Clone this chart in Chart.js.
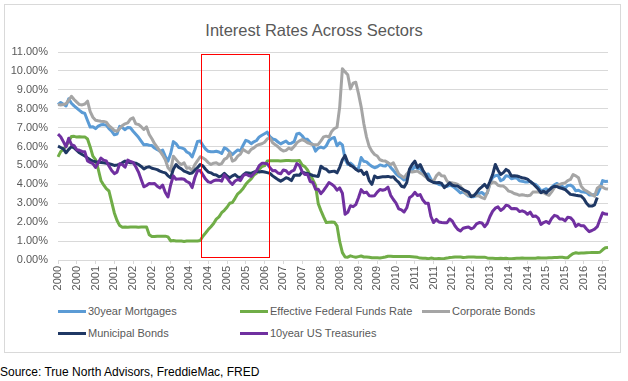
<!DOCTYPE html>
<html>
<head>
<meta charset="utf-8">
<title>Interest Rates Across Sectors</title>
<script src="https://cdn.jsdelivr.net/npm/chart.js@4.4.1/dist/chart.umd.min.js"></script>
<style>
  html, body { margin: 0; padding: 0; background: #fff; }
  #page { position: relative; width: 628px; height: 381px; font-family: "Liberation Sans", Arial, sans-serif; overflow: hidden; }
  #frame { position: absolute; left: 4px; top: 4px; width: 615px; height: 347px; border: 1px solid #d9d9d9; }
  #title { position: absolute; left: 0; top: 20px; width: 628px; text-align: center; font-size: 16.5px; line-height: 20px; color: #595959; }
  #chartBox { position: absolute; left: 0; top: 0; width: 628px; height: 300px; }
  .legend-item { position: absolute; height: 14px; line-height: 14px; font-size: 11px; color: #595959; white-space: nowrap; }
  .swatch { display: inline-block; width: 28px; height: 3px; vertical-align: middle; margin-right: 2px; position: relative; top: -1px; }
  #source { position: absolute; left: 0; top: 365px; font-size: 12px; line-height: 14px; color: #000; }
</style>
</head>
<body>
<div id="page">
  <div id="frame"></div>
  <div id="title">Interest Rates Across Sectors</div>
  <div id="chartBox"><canvas id="rates" width="628" height="300"></canvas></div>
  <div id="legend"></div>
  <div id="source">Source: True North Advisors, FreddieMac, FRED</div>
</div>
<script>
// Monthly series, Jan 2000 .. Feb 2017 (values in %)
const START_YEAR = 2000;
const MONTH_COUNT = 206;
const TICK_EVERY = 7;   // Excel shows a label every 7 months
const MONTH_NAMES = ['Jan','Feb','Mar','Apr','May','Jun','Jul','Aug','Sep','Oct','Nov','Dec'];

const MORTGAGE_30Y = [
  8.21, 8.33, 8.24, 8.15, 8.52, 8.29, 8.15, 8.03, 7.91, 7.80, 7.75, 7.38,
  7.03, 7.05, 6.95, 7.08, 7.15, 7.16, 7.13, 6.95, 6.82, 6.62, 6.66, 7.07,
  7.00, 6.89, 7.01, 6.99, 6.81, 6.65, 6.49, 6.29, 6.09, 6.11, 6.07, 6.05,
  5.92, 5.84, 5.75, 5.81, 5.48, 5.23, 5.63, 6.26, 6.15, 5.95, 5.93, 5.88,
  5.71, 5.64, 5.45, 5.83, 6.27, 6.29, 6.06, 5.87, 5.75, 5.72, 5.73, 5.75,
  5.71, 5.63, 5.93, 5.86, 5.72, 5.58, 5.70, 5.82, 5.77, 6.07, 6.33, 6.27,
  6.15, 6.25, 6.32, 6.51, 6.60, 6.68, 6.76, 6.52, 6.40, 6.36, 6.24, 6.14,
  6.22, 6.29, 6.16, 6.18, 6.26, 6.66, 6.70, 6.57, 6.38, 6.38, 6.21, 6.10,
  5.76, 5.92, 5.97, 5.92, 6.04, 6.32, 6.43, 6.48, 6.04, 6.20, 6.09, 5.33,
  5.06, 5.13, 5.00, 4.81, 4.86, 5.42, 5.22, 5.19, 5.06, 4.95, 4.88, 4.93,
  5.03, 4.99, 4.97, 5.10, 4.89, 4.74, 4.56, 4.43, 4.35, 4.23, 4.30, 4.71,
  4.76, 4.95, 4.84, 4.84, 4.64, 4.51, 4.55, 4.27, 4.11, 4.07, 3.99, 3.96,
  3.92, 3.89, 3.95, 3.91, 3.80, 3.68, 3.55, 3.60, 3.50, 3.38, 3.35, 3.35,
  3.41, 3.53, 3.57, 3.45, 3.54, 4.07, 4.37, 4.46, 4.49, 4.19, 4.26, 4.46,
  4.43, 4.30, 4.34, 4.34, 4.19, 4.16, 4.13, 4.12, 4.16, 4.04, 4.00, 3.86,
  3.67, 3.71, 3.77, 3.67, 3.84, 3.98, 4.05, 3.91, 3.89, 3.80, 3.94, 3.96,
  3.87, 3.66, 3.69, 3.61, 3.60, 3.57, 3.44, 3.44, 3.46, 3.47, 3.77, 4.20,
  4.15, 4.17
];

const FED_FUNDS = [
  5.45, 5.73, 5.85, 6.02, 6.27, 6.53, 6.54, 6.50, 6.52, 6.51, 6.51, 6.40,
  5.98, 5.49, 5.31, 4.80, 4.21, 3.97, 3.77, 3.65, 3.07, 2.49, 2.09, 1.82,
  1.73, 1.74, 1.73, 1.75, 1.75, 1.75, 1.73, 1.74, 1.75, 1.75, 1.34, 1.24,
  1.24, 1.26, 1.25, 1.26, 1.26, 1.22, 1.01, 1.03, 1.01, 1.01, 1.00, 0.98,
  1.00, 1.01, 1.00, 1.00, 1.00, 1.03, 1.26, 1.43, 1.61, 1.76, 1.93, 2.16,
  2.28, 2.50, 2.63, 2.79, 3.00, 3.04, 3.26, 3.50, 3.62, 3.78, 4.00, 4.16,
  4.29, 4.49, 4.59, 4.79, 4.94, 4.99, 5.24, 5.25, 5.25, 5.25, 5.25, 5.24,
  5.25, 5.26, 5.26, 5.25, 5.25, 5.25, 5.26, 5.02, 4.94, 4.76, 4.49, 4.24,
  3.94, 2.98, 2.61, 2.28, 1.98, 2.00, 2.01, 2.00, 1.81, 0.97, 0.39, 0.16,
  0.15, 0.22, 0.18, 0.15, 0.18, 0.21, 0.16, 0.16, 0.15, 0.12, 0.12, 0.12,
  0.11, 0.13, 0.16, 0.20, 0.20, 0.18, 0.18, 0.19, 0.19, 0.19, 0.19, 0.18,
  0.17, 0.16, 0.14, 0.10, 0.09, 0.09, 0.07, 0.10, 0.08, 0.07, 0.08, 0.07,
  0.08, 0.10, 0.13, 0.14, 0.16, 0.16, 0.16, 0.13, 0.14, 0.16, 0.16, 0.16,
  0.14, 0.15, 0.14, 0.15, 0.11, 0.09, 0.09, 0.08, 0.08, 0.09, 0.08, 0.09,
  0.07, 0.07, 0.08, 0.09, 0.09, 0.10, 0.09, 0.09, 0.09, 0.09, 0.09, 0.12,
  0.11, 0.11, 0.11, 0.12, 0.12, 0.13, 0.13, 0.14, 0.14, 0.12, 0.12, 0.24,
  0.34, 0.38, 0.36, 0.37, 0.37, 0.38, 0.39, 0.40, 0.40, 0.40, 0.41, 0.54,
  0.65, 0.66
];

const CORPORATE = [
  8.22, 8.20, 8.22, 8.27, 8.45, 8.66, 8.49, 8.35, 8.22, 8.20, 8.25, 8.40,
  7.85, 7.55, 7.39, 7.36, 7.34, 7.33, 7.29, 7.10, 6.99, 6.85, 6.81, 6.95,
  7.11, 7.20, 7.25, 7.45, 7.52, 7.20, 7.17, 7.05, 6.90, 7.04, 6.64, 6.41,
  6.15, 5.95, 5.76, 5.55, 5.30, 4.88, 4.72, 5.49, 5.32, 5.15, 5.05, 5.14,
  4.85, 4.88, 4.72, 5.05, 5.25, 5.46, 5.40, 5.30, 5.15, 5.05, 5.12, 5.14,
  5.05, 5.10, 5.32, 5.40, 5.67, 5.23, 5.30, 5.49, 5.60, 5.85, 5.75, 5.67,
  5.85, 5.93, 6.05, 6.11, 6.15, 6.23, 6.40, 6.46, 6.20, 6.10, 5.99, 5.85,
  5.76, 5.80, 5.92, 5.85, 6.00, 6.20, 6.30, 6.37, 6.30, 6.20, 6.15, 6.11,
  6.10, 6.11, 6.30, 6.51, 6.55, 6.50, 6.80, 6.95, 7.02, 8.10, 10.12, 9.95,
  9.80, 9.05, 9.35, 9.40, 8.80, 8.10, 7.20, 6.50, 6.00, 5.75, 5.58, 5.50,
  5.30, 5.25, 5.23, 5.15, 5.05, 5.14, 4.85, 4.55, 4.45, 4.35, 4.55, 4.70,
  4.65, 4.68, 4.70, 4.60, 4.52, 4.40, 4.26, 4.20, 4.17, 4.45, 4.60, 4.45,
  4.44, 4.17, 4.08, 4.08, 4.05, 4.00, 3.90, 3.70, 3.52, 3.42, 3.40, 3.42,
  3.40, 3.38, 3.30, 3.24, 3.56, 4.00, 4.12, 4.10, 3.95, 3.91, 3.91, 3.80,
  3.64, 3.60, 3.52, 3.48, 3.42, 3.45, 3.42, 3.40, 3.42, 3.59, 3.60, 3.59,
  3.57, 3.56, 3.48, 3.42, 3.60, 3.82, 3.95, 4.00, 4.05, 4.08, 4.20, 4.26,
  4.52, 4.45, 4.35, 3.91, 3.73, 3.65, 3.56, 3.45, 3.38, 3.80, 3.91, 3.85,
  3.77, 3.75
];

const MUNICIPAL = [
  6.02, 5.95, 5.88, 5.67, 5.85, 5.99, 5.93, 5.80, 5.67, 5.58, 5.50, 5.40,
  5.30, 5.23, 5.20, 5.18, 5.16, 5.14, 5.12, 5.09, 5.05, 5.00, 5.02, 5.05,
  5.15, 5.23, 5.18, 5.14, 5.14, 5.12, 5.05, 4.95, 4.82, 4.90, 4.93, 4.85,
  4.82, 4.78, 4.70, 4.65, 4.61, 4.45, 4.35, 4.80, 5.05, 4.90, 4.82, 4.70,
  4.65, 4.58, 4.60, 4.75, 4.88, 5.05, 4.98, 4.80, 4.65, 4.61, 4.52, 4.50,
  4.40, 4.45, 4.58, 4.45, 4.35, 4.45, 4.52, 4.40, 4.35, 4.50, 4.61, 4.60,
  4.58, 4.65, 4.70, 4.65, 4.68, 4.65, 4.62, 4.58, 4.45, 4.35, 4.25, 4.17,
  4.25, 4.35, 4.30, 4.20, 4.47, 4.50, 4.48, 4.65, 4.60, 4.58, 4.52, 4.47,
  4.44, 4.42, 4.96, 4.85, 4.80, 4.65, 4.68, 4.70, 4.61, 4.90, 5.30, 5.53,
  5.15, 5.00, 4.93, 4.80, 4.70, 4.75, 4.52, 4.65, 4.20, 4.00, 4.44, 4.35,
  4.38, 4.40, 4.40, 4.42, 4.38, 4.40, 4.23, 4.10, 3.90, 3.85, 4.10, 4.80,
  5.05, 5.23, 4.90, 5.05, 4.75, 4.52, 4.25, 4.17, 4.10, 4.08, 4.10, 4.05,
  3.82, 3.95, 4.08, 3.95, 3.92, 3.91, 3.80, 3.73, 3.65, 3.59, 3.35, 3.40,
  3.56, 3.75, 3.87, 4.00, 3.82, 4.15, 4.52, 5.05, 4.75, 4.52, 4.62, 4.79,
  4.70, 4.44, 4.45, 4.44, 4.40, 4.35, 4.32, 4.28, 4.15, 4.05, 3.90, 3.75,
  3.56, 3.64, 3.55, 3.70, 3.82, 3.90, 3.88, 3.82, 3.78, 3.73, 3.60, 3.47,
  3.45, 3.42, 3.40, 3.38, 3.24, 3.00, 2.85, 2.85, 2.92, 3.30, null, null,
  null, null
];

const TREASURY_10Y = [
  6.66, 6.52, 6.26, 5.99, 6.44, 6.10, 6.05, 5.83, 5.80, 5.74, 5.72, 5.24,
  5.16, 5.10, 4.89, 5.14, 5.39, 5.28, 5.24, 4.97, 4.73, 4.57, 4.65, 5.09,
  5.04, 4.91, 5.28, 5.21, 5.16, 4.93, 4.65, 4.26, 3.87, 3.94, 4.05, 4.03,
  4.05, 3.90, 3.81, 3.96, 3.57, 3.33, 3.98, 4.45, 4.27, 4.29, 4.30, 4.27,
  4.15, 4.08, 3.83, 4.35, 4.72, 4.73, 4.50, 4.28, 4.13, 4.10, 4.19, 4.23,
  4.22, 4.17, 4.50, 4.34, 4.14, 4.00, 4.18, 4.26, 4.20, 4.46, 4.54, 4.47,
  4.42, 4.57, 4.72, 4.99, 5.11, 5.11, 5.09, 4.88, 4.72, 4.73, 4.60, 4.56,
  4.76, 4.72, 4.56, 4.69, 4.75, 5.10, 5.00, 4.67, 4.52, 4.53, 4.15, 4.10,
  3.74, 3.74, 3.51, 3.68, 3.88, 4.10, 4.01, 3.89, 3.69, 3.81, 3.53, 2.42,
  2.52, 2.87, 2.82, 2.93, 3.29, 3.72, 3.56, 3.59, 3.40, 3.39, 3.40, 3.59,
  3.73, 3.69, 3.73, 3.85, 3.42, 3.20, 3.01, 2.70, 2.65, 2.54, 2.76, 3.29,
  3.39, 3.58, 3.41, 3.46, 3.17, 3.00, 3.00, 2.30, 1.98, 2.15, 2.01, 1.98,
  1.97, 1.97, 2.17, 2.05, 1.80, 1.62, 1.53, 1.68, 1.72, 1.75, 1.65, 1.72,
  1.91, 1.98, 1.96, 1.76, 1.93, 2.30, 2.58, 2.74, 2.81, 2.62, 2.72, 2.90,
  2.86, 2.71, 2.72, 2.71, 2.56, 2.60, 2.54, 2.42, 2.53, 2.30, 2.33, 2.21,
  1.88, 1.98, 2.04, 1.94, 2.20, 2.36, 2.32, 2.17, 2.17, 2.07, 2.26, 2.24,
  2.09, 1.78, 1.89, 1.81, 1.81, 1.64, 1.50, 1.56, 1.63, 1.76, 2.14, 2.49,
  2.43, 2.42
];

const SERIES_NAMES = ['30year Mortgages', 'Effective Federal Funds Rate', 'Corporate Bonds', 'Municipal Bonds', '10year US Treasuries'];
const SERIES_DATA = [MORTGAGE_30Y, FED_FUNDS, CORPORATE, MUNICIPAL, TREASURY_10Y];
const SERIES_COLORS = ['#5B9BD5', '#70AD47', '#A5A5A5', '#1F3864', '#7030A0'];

// Highlighted period (Fed tightening cycle), in month index / percent
const HIGHLIGHT = { from: 53.4, to: 78.8, low: 0.15, high: 10.9 };

const Y_MIN = 0, Y_MAX = 11, Y_STEP = 1;

// layout
const LEGEND_COLS = [58, 240, 422];
const LEGEND_ROWS = [311, 333];
const AXIS_FONT = { family: '"Liberation Sans", Arial, sans-serif', size: 11 };
const TEXT_GREY = '#595959';
const GRID_GREY = '#D9D9D9';

const MONTHS = [];
for (let i = 0; i < MONTH_COUNT; i++) {
  MONTHS.push(MONTH_NAMES[i % 12] + ' ' + (START_YEAR + Math.floor(i / 12)));
}

const highlightBox = {
  id: 'highlightBox',
  afterDatasetsDraw(chart) {
    const x = chart.scales.x, y = chart.scales.y, ctx = chart.ctx;
    const left = x.getPixelForValue(HIGHLIGHT.from);
    const right = x.getPixelForValue(HIGHLIGHT.to);
    const top = y.getPixelForValue(HIGHLIGHT.high);
    const bottom = y.getPixelForValue(HIGHLIGHT.low);
    ctx.save();
    ctx.strokeStyle = '#FF0000';
    ctx.lineWidth = 1;
    ctx.strokeRect(Math.round(left) + 0.5, Math.round(top) + 0.5, Math.round(right - left), Math.round(bottom - top));
    ctx.restore();
  }
};

function buildLegend() {
  const holder = document.getElementById('legend');
  SERIES_NAMES.forEach((name, i) => {
    const item = document.createElement('div');
    item.className = 'legend-item';
    item.style.left = LEGEND_COLS[i % 3] + 'px';
    item.style.top = (LEGEND_ROWS[Math.floor(i / 3)] - 7) + 'px';
    const sw = document.createElement('span');
    sw.className = 'swatch';
    sw.style.background = SERIES_COLORS[i];
    item.appendChild(sw);
    item.appendChild(document.createTextNode(name));
    holder.appendChild(item);
  });
}

function initChart() {
  const ctx = document.getElementById('rates').getContext('2d');
  new Chart(ctx, {
    type: 'line',
    data: {
      labels: MONTHS,
      datasets: SERIES_NAMES.map((name, i) => ({
        label: name,
        data: SERIES_DATA[i],
        borderColor: SERIES_COLORS[i],
        backgroundColor: SERIES_COLORS[i],
        borderWidth: 3,
        pointRadius: 0,
        tension: 0,
        fill: false,
        borderJoinStyle: 'round',
        order: SERIES_NAMES.length - i   // later series on top, like Excel
      }))
    },
    options: {
      responsive: false,
      animation: false,
      layout: { padding: { top: 52, right: 20, left: 0, bottom: 0 } },
      plugins: {
        legend: { display: false },
        title: { display: false },
        tooltip: { enabled: false }
      },
      scales: {
        x: {
          offset: false,
          grid: { display: true, drawOnChartArea: false, drawTicks: true, tickLength: 4, color: GRID_GREY },
          border: { display: true, color: GRID_GREY },
          ticks: {
            autoSkip: false,
            minRotation: 90,
            maxRotation: 90,
            padding: 2,
            color: TEXT_GREY,
            font: AXIS_FONT,
            callback: function (v) { return this.getLabelForValue(v).slice(-4); }
          },
          afterBuildTicks: (scale) => {
            scale.ticks = scale.ticks.filter(t => t.value % TICK_EVERY === 0);
          },
          afterFit: (scale) => { scale.height = 40; }
        },
        y: {
          min: Y_MIN,
          max: Y_MAX,
          grid: { color: GRID_GREY, drawTicks: false },
          border: { display: false },
          ticks: {
            stepSize: Y_STEP,
            padding: 10,
            color: TEXT_GREY,
            font: AXIS_FONT,
            callback: v => v.toFixed(2) + '%'
          },
          afterFit: (scale) => { scale.width = 58; }
        }
      }
    },
    plugins: [highlightBox]
  });
}

buildLegend();
initChart();
</script>
</body>
</html>
